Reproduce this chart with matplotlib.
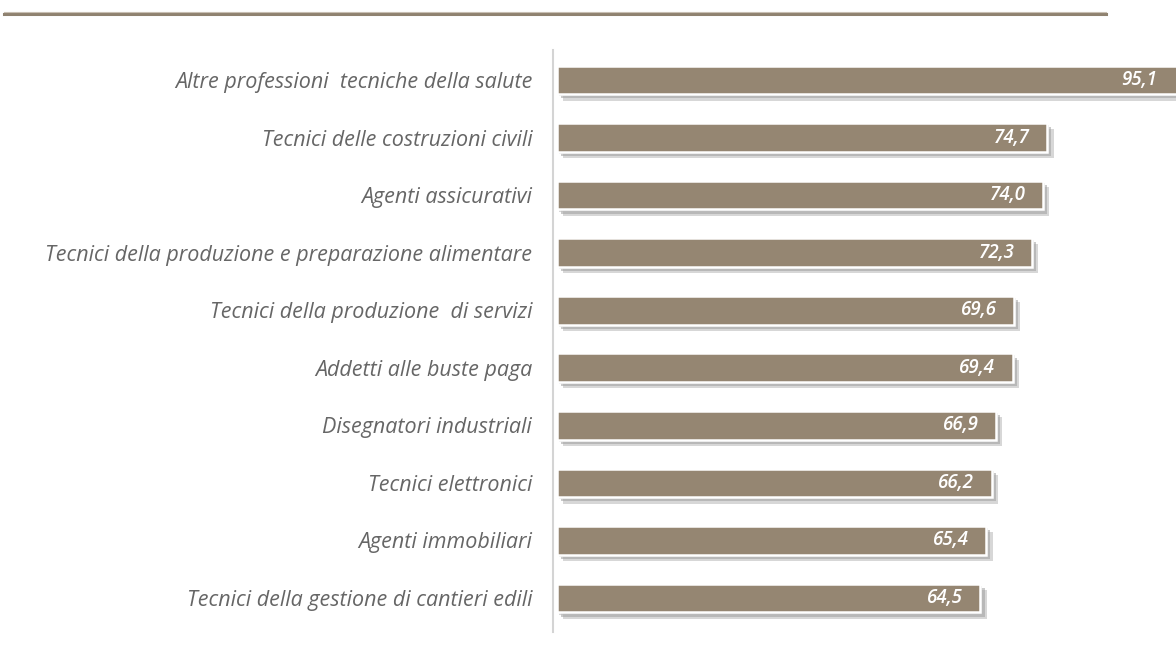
import matplotlib
matplotlib.use("Agg")
import matplotlib.pyplot as plt
import matplotlib.patheffects as pe
from matplotlib.lines import Line2D

# ---------------------------
# Data
# ---------------------------
professions = [
    "Altre professioni  tecniche della salute",
    "Tecnici delle costruzioni civili",
    "Agenti assicurativi",
    "Tecnici della produzione e preparazione alimentare",
    "Tecnici della produzione  di servizi",
    "Addetti alle buste paga",
    "Disegnatori industriali",
    "Tecnici elettronici",
    "Agenti immobiliari",
    "Tecnici della gestione di cantieri edili",
]
values = [95.1, 74.7, 74.0, 72.3, 69.6, 69.4, 66.9, 66.2, 65.4, 64.5]
value_labels = ["95,1", "74,7", "74,0", "72,3", "69,6", "69,4", "66,9", "66,2", "65,4", "64,5"]

bar_color = "#958672"

fig = plt.figure(figsize=(11.76, 6.59), dpi=100)
ax = fig.add_axes([553 / 1176, 1 - 632 / 659, (1176 - 553) / 1176, (632 - 50) / 659])

positions = list(range(len(values)))
bars = ax.barh(positions, values, height=0.5, color=bar_color,
               edgecolor="white", linewidth=1.8)
for b in bars:
    b.set_path_effects([
        pe.SimplePatchShadow(offset=(4.5, -4.5), shadow_rgbFace="#a8a8a8", alpha=0.45),
        pe.SimplePatchShadow(offset=(3, -3), shadow_rgbFace="#a0a0a0", alpha=0.55),
        pe.SimplePatchShadow(offset=(1.5, -1.5), shadow_rgbFace="#bdbdbd", alpha=0.6),
        pe.Normal(),
    ])

for pos, val, lab in zip(positions, values, value_labels):
    x_txt = min(val, 94.0) - 2.6
    ax.text(x_txt, pos, lab, ha="right", va="center", color="white",
            fontsize=13.5, fontweight="semibold", fontstyle="italic", family="Open Sans")

ax.set_xlim(-0.6, 94.3)
ax.set_ylim(9.59, -0.52)
ax.set_yticks(positions)
ax.set_yticklabels(professions, fontsize=15.5, fontstyle="italic",
                   color="#666666", family="Open Sans")
ax.tick_params(axis="y", length=0, pad=15)
ax.set_xticks([])

for side in ["top", "right", "bottom"]:
    ax.spines[side].set_visible(False)
ax.spines["left"].set_color("#d4d4d4")
ax.spines["left"].set_linewidth(1.5)

# top decorative rule
fig.add_artist(Line2D([4 / 1176, 1106 / 1176], [1 - 13.5 / 659, 1 - 13.5 / 659],
                      color="#8f8270", linewidth=2.2, transform=fig.transFigure))
fig.add_artist(Line2D([4 / 1176, 1106 / 1176], [1 - 12 / 659, 1 - 12 / 659],
                      color="#c8bfb3", linewidth=0.8, transform=fig.transFigure))

fig.savefig("out.png", dpi=100)
